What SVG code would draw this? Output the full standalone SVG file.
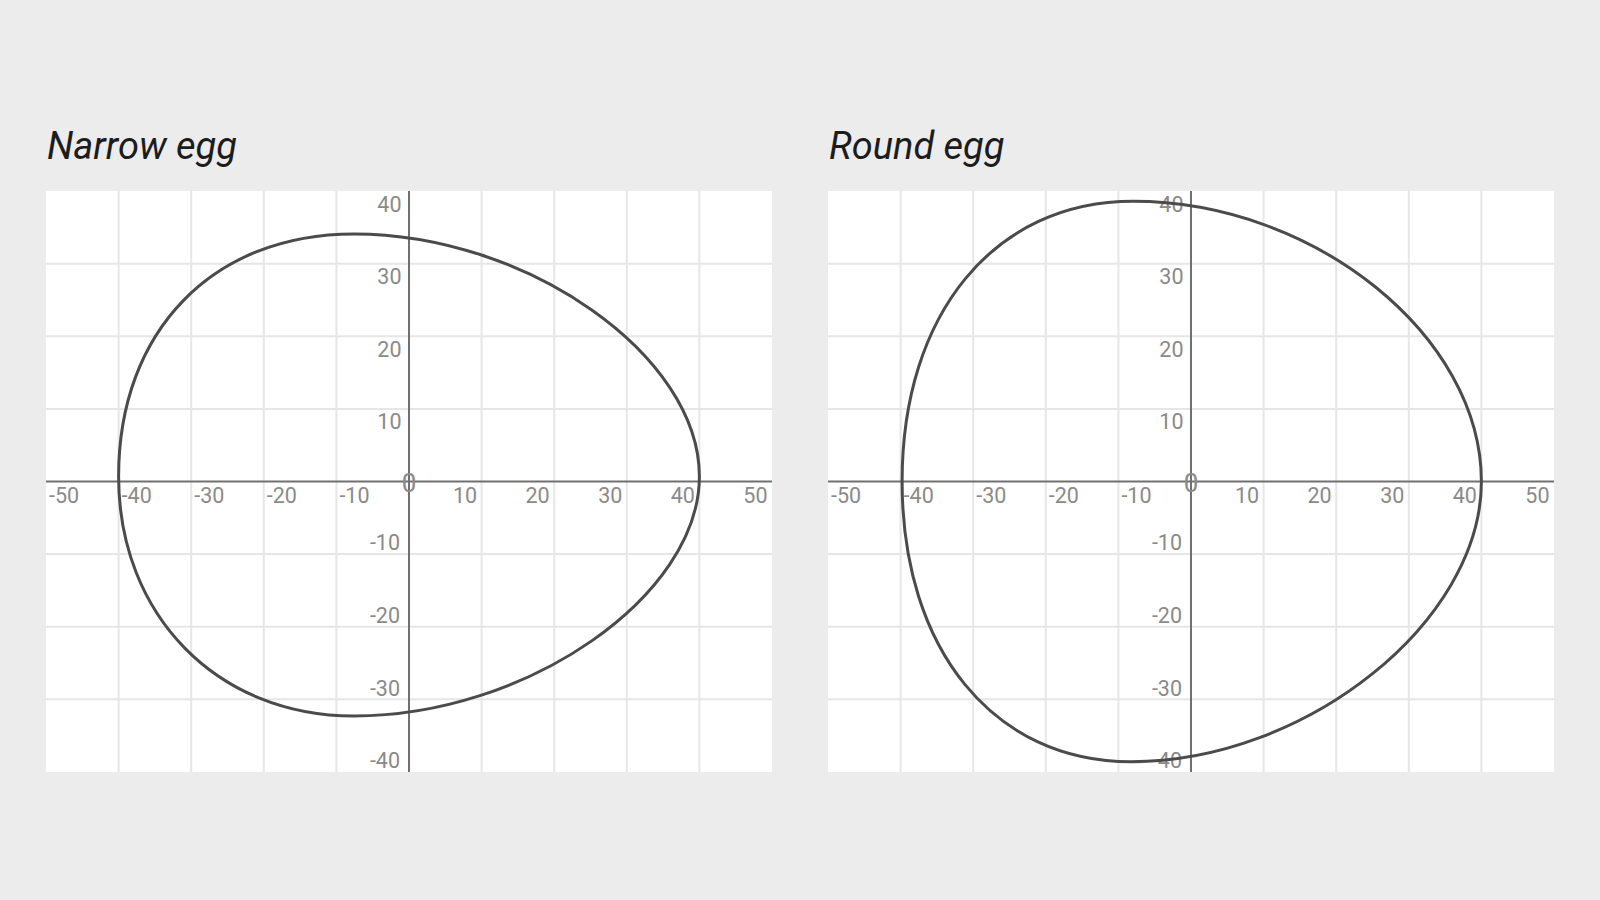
<svg xmlns="http://www.w3.org/2000/svg" width="1600" height="900" viewBox="0 0 1600 900">
<style>
.bg{fill:#ececec}
.plot{fill:#ffffff}
.grid{stroke:#e6e6e6;stroke-width:2;fill:none}
.axis{stroke:#707070;stroke-width:2;fill:none}
.egg{stroke:#4b4b4b;stroke-width:3;fill:none}
.title{font-family:Roboto,"Liberation Sans",sans-serif;font-style:italic;font-size:38px;fill:#1c1c1c}
.tick{font-family:Roboto,"Liberation Sans",sans-serif;font-size:21.5px;fill:#8a8a8a}
.xn{text-anchor:start}
.xp{text-anchor:end}
.y{text-anchor:end}
.zero{font-family:Roboto,"Liberation Sans",sans-serif;font-size:26px;fill:#8a8a8a;text-anchor:middle}
</style>
<defs>
<g id="axes">
<rect class="plot" x="-363" y="-290.5" width="726" height="581"/>
<path class="grid" d="M-290.4-290.5V290.5M-217.8-290.5V290.5M-145.2-290.5V290.5M-72.6-290.5V290.5M72.6-290.5V290.5M145.2-290.5V290.5M217.8-290.5V290.5M290.4-290.5V290.5M-363-217.8H363M-363-145.2H363M-363-72.6H363M-363 72.6H363M-363 145.2H363M-363 217.8H363"/>
<path class="axis" d="M-363 0H363M0-290.5V290.5"/>
<text class="tick xn" x="-360" y="21.5">-50</text>
<text class="tick xn" x="-287.4" y="21.5">-40</text>
<text class="tick xn" x="-214.8" y="21.5">-30</text>
<text class="tick xn" x="-142.2" y="21.5">-20</text>
<text class="tick xn" x="-69.6" y="21.5">-10</text>
<text class="tick xp" x="68.1" y="21.5">10</text>
<text class="tick xp" x="140.7" y="21.5">20</text>
<text class="tick xp" x="213.3" y="21.5">30</text>
<text class="tick xp" x="285.9" y="21.5">40</text>
<text class="tick xp" x="358.5" y="21.5">50</text>
<text class="tick y" x="-7.5" y="-269.9">40</text>
<text class="tick y" x="-7.5" y="-197.3">30</text>
<text class="tick y" x="-7.5" y="-124.7">20</text>
<text class="tick y" x="-7.5" y="-52.1">10</text>
<text class="tick y" x="-9" y="68.8">-10</text>
<text class="tick y" x="-9" y="141.4">-20</text>
<text class="tick y" x="-9" y="214">-30</text>
<text class="tick y" x="-9" y="286.6">-40</text>
<text class="zero" x="0" y="10">0</text>
</g>
</defs>
<rect class="bg" x="0" y="0" width="1600" height="900"/>
<g id="narrow-egg">
<text class="title" x="47" y="159">Narrow egg</text>
<use href="#axes" transform="translate(409 481.5)"/>
<path class="egg" d="M118.6 476.4C118.6 330.9 212.7 233.9 353.8 233.9C526.6 233.9 699.4 355.1 699.4 476.4C699.4 596.2 526.6 716 353.8 716C217.4 716 118.6 615.4 118.6 476.4Z"/>
</g>
<g id="round-egg">
<text class="title" x="829" y="159">Round egg</text>
<use href="#axes" transform="translate(1191 481.5)"/>
<path class="egg" d="M902.1 481.5C902.1 313.4 994.5 201.3 1133 201.3C1314.2 201.3 1481.4 335.8 1481.4 481.5C1481.4 621.6 1306.2 761.7 1131 761.7C993.7 761.7 902.1 649.6 902.1 481.5Z"/>
</g>
<g id="connectors"></g>
</svg>
